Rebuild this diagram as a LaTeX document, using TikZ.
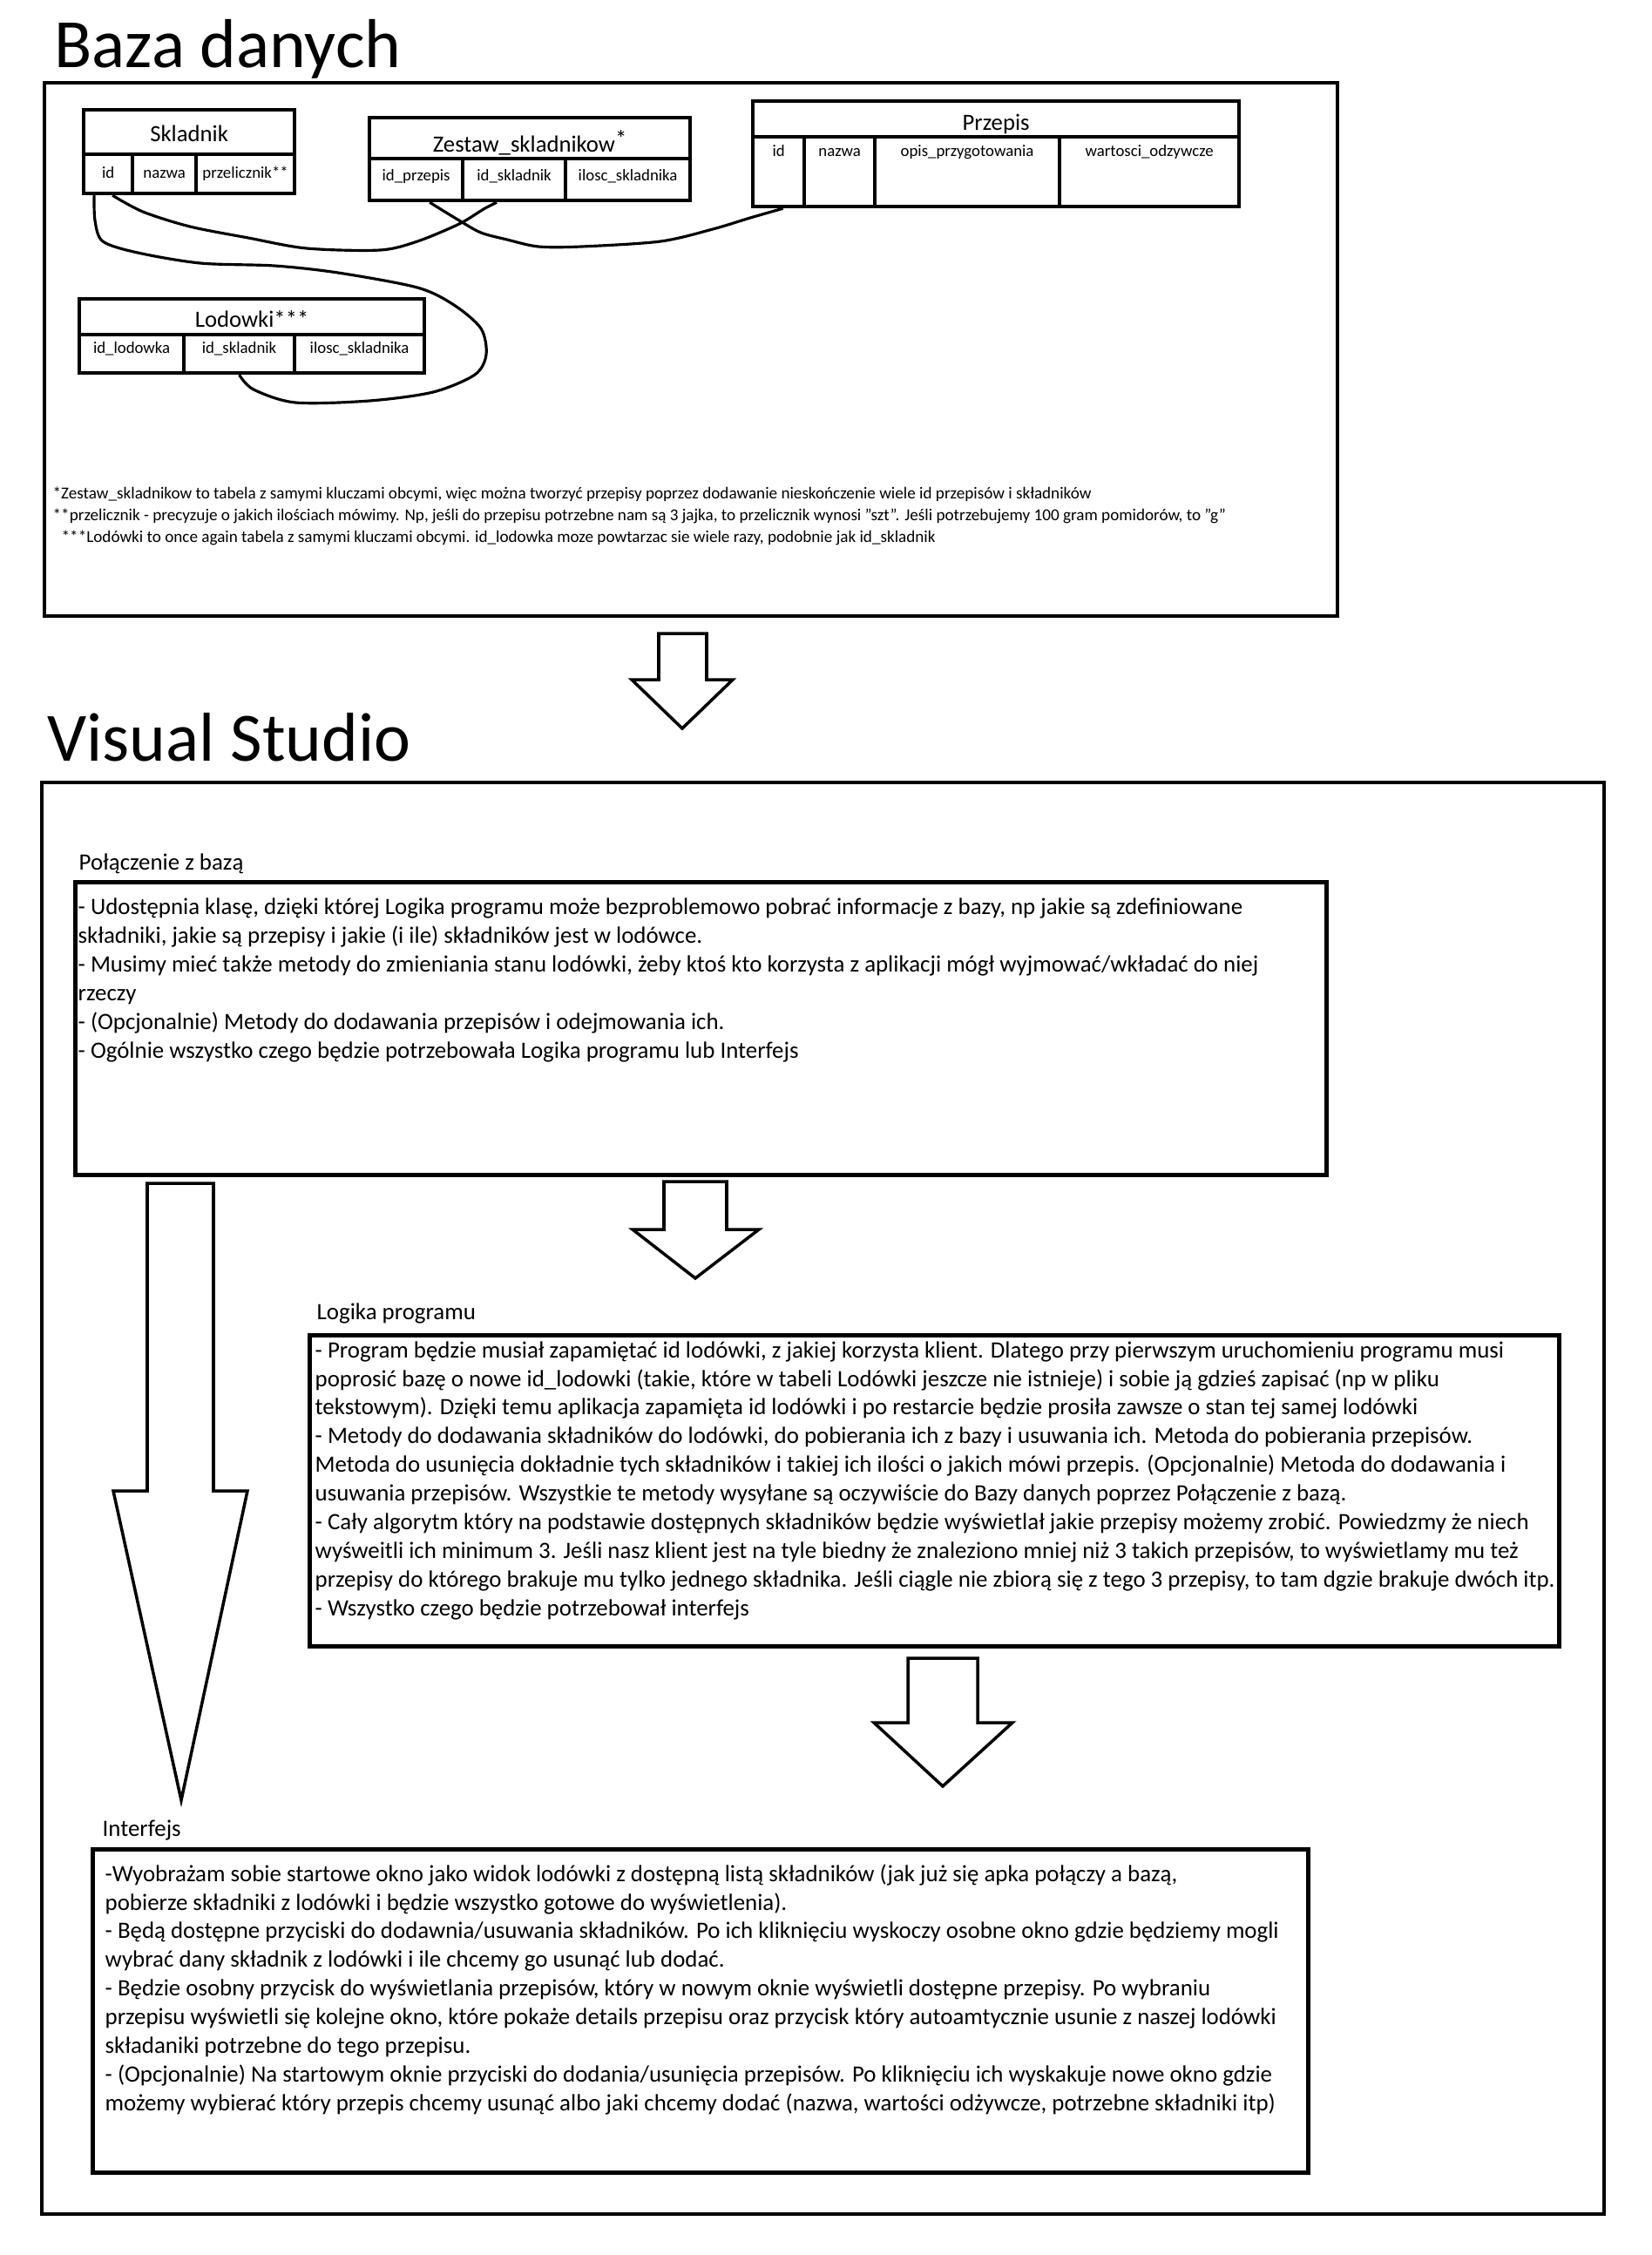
\documentclass[tikz,border=0pt]{standalone}
\usepackage{fontspec}
\setmainfont{Carlito}
\usetikzlibrary{positioning}

\newcommand\bigtitle{\fontsize{22.6}{26}\selectfont}
\newcommand\bodytxt{\fontsize{7.65}{9.35}\selectfont}
\newcommand\tbtitle{\fontsize{7.6}{9}\selectfont}
\newcommand\tbrow{\fontsize{5.35}{6.5}\selectfont}
\newcommand\notetxt{\fontsize{5.45}{7.1}\selectfont}

\begin{document}
\begin{tikzpicture}[x=1cm, y=-1cm,
        frame/.style={line width=1.3pt},
        panel/.style={draw, line width=1.3pt, inner sep=0pt, anchor=north west},
        tabhead/.style={draw, line width=1.2pt, inner sep=0pt, anchor=north west, font=\tbtitle},
        tabcell/.style={draw, line width=1.2pt, inner sep=0pt, anchor=north west, font=\tbrow},
        link/.style={line width=0.9pt},
        bigarrow/.style={line width=1pt},
        txt/.style={inner sep=0pt, anchor=base west, align=left, font=\bodytxt}]

        \useasboundingbox (0,0) rectangle (18.96,25.88);

        % Baza danych
        \node[anchor=base west, inner sep=0pt, font=\bigtitle] (baza-title) at (0.62,0.77) {Baza danych};
        \draw[frame] (0.51,0.95) rectangle (15.35,7.07);

        \node[tabhead, minimum width=2.42cm, text height=0.36cm, text depth=0.15cm] (skladnik) at (0.94,1.24) {Skladnik};
        \node[tabcell, minimum width=0.56cm, text height=0.27cm, text depth=0.18cm] (sk-id) at (0.94,1.75) {id};
        \node[tabcell, minimum width=0.73cm, text height=0.27cm, text depth=0.18cm] (sk-nazwa) at (1.50,1.75) {nazwa};
        \node[tabcell, minimum width=1.13cm, text height=0.27cm, text depth=0.18cm] (sk-przel) at (2.23,1.75) {przelicznik**};

        \node[tabhead, minimum width=3.68cm, text height=0.39cm, text depth=0.08cm] (zestaw) at (4.22,1.33) {Zestaw\_skladnikow\raisebox{0.45ex}{*}};
        \node[tabcell, minimum width=1.07cm, text height=0.25cm, text depth=0.23cm] (zs-prz) at (4.22,1.80) {id\_przepis};
        \node[tabcell, minimum width=1.18cm, text height=0.25cm, text depth=0.23cm] (zs-skl) at (5.29,1.80) {id\_skladnik};
        \node[tabcell, minimum width=1.43cm, text height=0.25cm, text depth=0.23cm] (zs-il) at (6.47,1.80) {ilosc\_skladnika};

        \node[tabhead, minimum width=5.58cm, text height=0.33cm, text depth=0.08cm] (przepis) at (8.62,1.14) {Przepis};
        \node[tabcell, minimum width=0.59cm, text height=0.22cm, text depth=0.58cm] (pr-id) at (8.62,1.55) {id};
        \node[tabcell, minimum width=0.81cm, text height=0.22cm, text depth=0.58cm] (pr-nazwa) at (9.21,1.55) {nazwa};
        \node[tabcell, minimum width=2.12cm, text height=0.22cm, text depth=0.58cm] (pr-opis) at (10.02,1.55) {opis\_przygotowania};
        \node[tabcell, minimum width=2.06cm, text height=0.22cm, text depth=0.58cm] (pr-wart) at (12.14,1.55) {wartosci\_odzywcze};

        \node[tabhead, minimum width=3.96cm, text height=0.32cm, text depth=0.09cm] (lodowki) at (0.89,3.41) {Lodowki***};
        \node[tabcell, minimum width=1.20cm, text height=0.21cm, text depth=0.23cm] (lo-id) at (0.89,3.82) {id\_lodowka};
        \node[tabcell, minimum width=1.27cm, text height=0.21cm, text depth=0.23cm] (lo-skl) at (2.09,3.82) {id\_skladnik};
        \node[tabcell, minimum width=1.49cm, text height=0.21cm, text depth=0.23cm] (lo-il) at (3.36,3.82) {ilosc\_skladnika};

        \draw[link] plot[smooth] coordinates {([xshift=-0.16cm]sk-id.south) (1.09,2.53) (1.18,2.77) (1.58,2.90) (2.30,3.02) (3.15,3.05) (3.88,3.13) (4.79,3.30) (5.21,3.50) (5.52,3.77) (5.58,4.07) (5.45,4.30) (4.97,4.50) (4.24,4.60) (3.39,4.62) (2.91,4.47) (lo-skl.south)};
        \draw[link] plot[smooth] coordinates {([xshift=0.05cm]sk-id.south) (1.64,2.43) (2.18,2.60) (2.85,2.73) (3.52,2.85) (4.36,2.87) (4.79,2.77) (5.27,2.57) (5.55,2.40) ([xshift=-0.2cm]zs-skl.south)};
        \draw[link] plot[smooth] coordinates {([xshift=0.155cm]zs-prz.south) (5.27,2.53) (5.52,2.67) (5.82,2.75) (6.18,2.83) (6.67,2.83) (7.58,2.77) (8.18,2.63) (8.61,2.50) ([xshift=0.05cm]pr-id.south)};

        \node[inner sep=0pt, anchor=base west, align=left, font=\notetxt] (notes) at (0.60,6.22) {*Zestaw\_skladnikow to tabela z samymi kluczami obcymi, więc można tworzyć przepisy poprzez dodawanie nieskończenie wiele id przepisów i składników\\
                **przelicznik - precyzuje o jakich ilościach mówimy. Np, jeśli do przepisu potrzebne nam są 3 jajka, to przelicznik wynosi "szt". Jeśli potrzebujemy 100 gram pomidorów, to "g"\\
                \hspace*{0.1cm}***Lodówki to once again tabela z samymi kluczami obcymi. id\_lodowka moze powtarzac sie wiele razy, podobnie jak id\_skladnik};

        \draw[bigarrow] (7.56,7.27) -- (8.11,7.27) -- (8.11,7.80) -- (8.41,7.80) -- (7.83,8.36) -- (7.25,7.80) -- (7.56,7.80) -- cycle;

        % Visual Studio
        \node[anchor=base west, inner sep=0pt, font=\bigtitle] (vs-title) at (0.54,8.73) {Visual Studio};
        \draw[frame] (0.48,8.98) rectangle (18.41,25.41);

        \node[txt] (pol-label) at (0.90,9.98) {Połączenie z bazą};
        \node[panel, minimum width=14.36cm, minimum height=3.36cm] (polaczenie) at (0.84,10.10) {};
        \node[txt] (pol-txt) at (0.89,12.14) {- Udostępnia klasę, dzięki której Logika programu może bezproblemowo pobrać informacje z bazy, np jakie są zdefiniowane\\
                składniki, jakie są przepisy i jakie (i ile) składników jest w lodówce.\\
                - Musimy mieć także metody do zmieniania stanu lodówki, żeby ktoś kto korzysta z aplikacji mógł wyjmować/wkładać do niej\\
                rzeczy\\
                - (Opcjonalnie) Metody do dodawania przepisów i odejmowania ich.\\
                - Ogólnie wszystko czego będzie potrzebowała Logika programu lub Interfejs};

        \draw[bigarrow] (7.62,13.56) -- (8.34,13.56) -- (8.34,14.11) -- (8.71,14.11) -- (7.98,14.67) -- (7.26,14.11) -- (7.62,14.11) -- cycle;
        \draw[bigarrow] (1.69,13.58) -- (2.45,13.58) -- (2.45,17.11) -- (2.84,17.11) -- (2.08,20.66) -- (1.30,17.11) -- (1.69,17.11) -- cycle;

        \node[txt] (log-label) at (3.63,15.14) {Logika programu};
        \node[panel, minimum width=14.34cm, minimum height=3.57cm] (logika) at (3.53,15.30) {};
        \node[txt] (log-txt) at (3.61,18.54) {- Program będzie musiał zapamiętać id lodówki, z jakiej korzysta klient. Dlatego przy pierwszym uruchomieniu programu musi\\
                poprosić bazę o nowe id\_lodowki (takie, które w tabeli Lodówki jeszcze nie istnieje) i sobie ją gdzieś zapisać (np w pliku\\
                tekstowym). Dzięki temu aplikacja zapamięta id lodówki i po restarcie będzie prosiła zawsze o stan tej samej lodówki\\
                - Metody do dodawania składników do lodówki, do pobierania ich z bazy i usuwania ich. Metoda do pobierania przepisów.\\
                Metoda do usunięcia dokładnie tych składników i takiej ich ilości o jakich mówi przepis. (Opcjonalnie) Metoda do dodawania i\\
                usuwania przepisów. Wszystkie te metody wysyłane są oczywiście do Bazy danych poprzez Połączenie z bazą.\\
                - Cały algorytm który na podstawie dostępnych składników będzie wyświetlał jakie przepisy możemy zrobić. Powiedzmy że niech\\
                wyśweitli ich minimum 3. Jeśli nasz klient jest na tyle biedny że znaleziono mniej niż 3 takich przepisów, to wyświetlamy mu też\\
                przepisy do którego brakuje mu tylko jednego składnika. Jeśli ciągle nie zbiorą się z tego 3 przepisy, to tam dgzie brakuje dwóch itp.\\
                - Wszystko czego będzie potrzebował interfejs};

        \draw[bigarrow] (10.42,19.03) -- (11.22,19.03) -- (11.22,19.77) -- (11.62,19.77) -- (10.82,20.50) -- (10.03,19.77) -- (10.42,19.77) -- cycle;

        \node[txt] (int-label) at (1.17,21.07) {Interfejs};
        \node[panel, minimum width=13.95cm, minimum height=3.71cm] (interfejs) at (1.04,21.20) {};
        \node[txt] (int-txt) at (1.20,24.22) {-Wyobrażam sobie startowe okno jako widok lodówki z dostępną listą składników (jak już się apka połączy a bazą,\\
                pobierze składniki z lodówki i będzie wszystko gotowe do wyświetlenia).\\
                - Będą dostępne przyciski do dodawnia/usuwania składników. Po ich kliknięciu wyskoczy osobne okno gdzie będziemy mogli\\
                wybrać dany składnik z lodówki i ile chcemy go usunąć lub dodać.\\
                - Będzie osobny przycisk do wyświetlania przepisów, który w nowym oknie wyświetli dostępne przepisy. Po wybraniu\\
                przepisu wyświetli się kolejne okno, które pokaże details przepisu oraz przycisk który autoamtycznie usunie z naszej lodówki\\
                składaniki potrzebne do tego przepisu.\\
                - (Opcjonalnie) Na startowym oknie przyciski do dodania/usunięcia przepisów. Po kliknięciu ich wyskakuje nowe okno gdzie\\
                możemy wybierać który przepis chcemy usunąć albo jaki chcemy dodać (nazwa, wartości odżywcze, potrzebne składniki itp)};
\end{tikzpicture}
\end{document}
